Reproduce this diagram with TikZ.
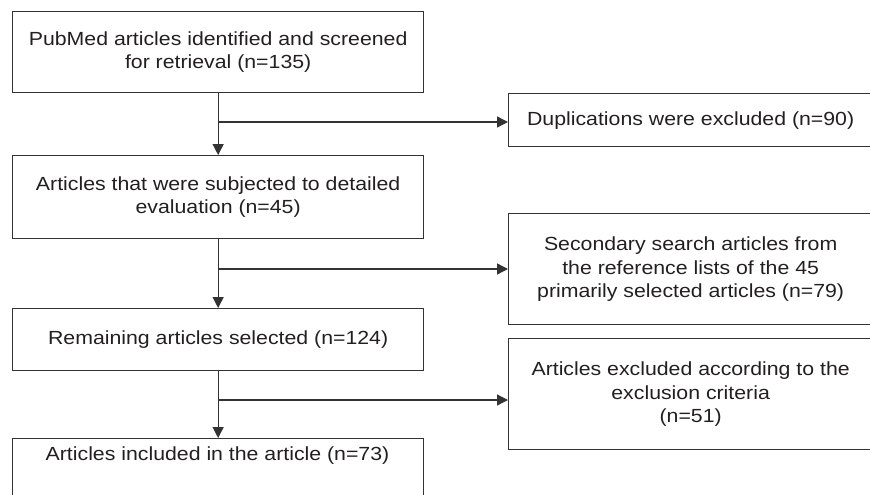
\documentclass[tikz,border=0pt]{standalone}
\usepackage{fontspec}
\setmainfont[FakeStretch=1.12]{Liberation Sans}
\usetikzlibrary{arrows.meta}
\definecolor{linec}{HTML}{333333}
\definecolor{textc}{HTML}{231F20}
\begin{document}
\begin{tikzpicture}[x=1pt,y=-1pt,
  box/.style={draw=linec, line width=1.3pt, rectangle, anchor=north west, inner sep=0pt,
    text=textc, align=center, font=\fontsize{19}{23.5}\selectfont},
  txt/.style={text=textc, align=center, inner sep=0pt, font=\fontsize{19}{23.5}\selectfont},
  arr/.style={draw=linec, line width=1.3pt, -{Triangle[length=11pt,width=11pt]}},
  ln/.style={draw=linec, line width=1.3pt}]
\useasboundingbox (0,0) rectangle (870,495);
\clip (0,0) rectangle (870,495);
% left column
\node[box, minimum width=411pt, minimum height=81pt] (b1) at (12,11)
  {PubMed articles identified and screened\\for retrieval (n=135)};
\node[box, minimum width=411pt, minimum height=83pt] (b2) at (12,155)
  {Articles that were subjected to detailed\\evaluation (n=45)};
\node[box, minimum width=411pt, minimum height=62pt] (b3) at (12,308)
  {Remaining articles selected (n=124)};
\node[box, minimum width=411pt, minimum height=90pt] (b4) at (12,438) {};
\node[txt] (t4) at (217.5,456) {Articles included in the article (n=73)};
% right column
\node[box, minimum width=364pt, minimum height=53pt] (r1) at (508,93)
  {Duplications were excluded (n=90)};
\node[box, minimum width=364pt, minimum height=111pt] (r2) at (508,213)
  {Secondary search articles from\\the reference lists of the 45\\primarily selected articles (n=79)};
\node[box, minimum width=364pt, minimum height=111pt] (r3) at (508,338)
  {Articles excluded according to the\\exclusion criteria\\(n=51)};
% connectors
\draw[arr] (b1.south) -- (b2.north);
\draw[arr] (b2.south) -- (b3.north);
\draw[arr] (b3.south) -- (b4.north);
\coordinate (j1) at (217.5,122);
\coordinate (j2) at (217.5,269);
\coordinate (j3) at (217.5,400);
\draw[arr] (j1) -- (j1 -| r1.west);
\draw[arr] (j2) -- (j2 -| r2.west);
\draw[arr] (j3) -- (j3 -| r3.west);
\end{tikzpicture}
\end{document}
